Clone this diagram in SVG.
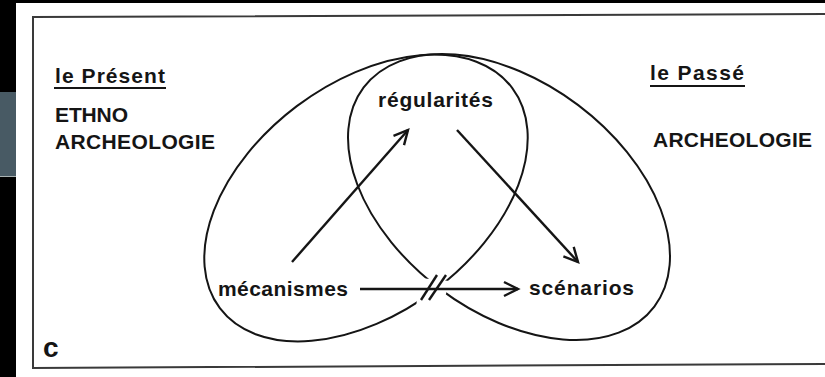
<svg xmlns="http://www.w3.org/2000/svg" width="825" height="377" viewBox="0 0 825 377">
<style>
.t{font-family:"Liberation Sans",Arial,sans-serif;font-weight:bold;font-size:21px;fill:#151515}
.c{fill:none;stroke:#151515;stroke-width:2}
.a{fill:none;stroke:#151515;stroke-width:2.4}
</style>
<defs>
<marker id="ah" markerUnits="userSpaceOnUse" viewBox="-16 -10 20 20" refX="0" refY="0" markerWidth="20" markerHeight="20" orient="auto">
<path d="M-14,-7 L0,0 L-14,7" fill="none" stroke="#151515" stroke-width="2.4" stroke-linejoin="miter"/>
</marker>
<mask id="gap" maskUnits="userSpaceOnUse" x="0" y="0" width="825" height="377">
<rect x="0" y="0" width="825" height="377" fill="#fff"/>
<polygon points="420,278 450,281 445,297 416,307" fill="#000"/>
</mask>
</defs>
<rect x="0" y="0" width="825" height="377" fill="#000"/>
<rect x="16" y="3" width="809" height="374" fill="#fff"/>
<rect x="0" y="92" width="16" height="84" fill="#485a64"/>
<line x1="0" y1="176.5" x2="16" y2="176.5" stroke="#a9b2b2" stroke-width="1"/>
<path d="M825,14 L33,17 L33,368 L825,364" fill="none" stroke="#3a3a3a" stroke-width="2"/>
<g id="present">
<text class="t" x="55" y="83" textLength="110" lengthAdjust="spacing">le Présent</text>
<line x1="54" y1="88" x2="166" y2="88" stroke="#151515" stroke-width="2"/>
<text class="t" x="55" y="122" textLength="73" lengthAdjust="spacing">ETHNO</text>
<text class="t" x="55" y="149" textLength="160" lengthAdjust="spacing">ARCHEOLOGIE</text>
</g>
<g id="passe">
<text class="t" x="650" y="80" textLength="94" lengthAdjust="spacing">le Passé</text>
<line x1="650" y1="86" x2="745" y2="86" stroke="#151515" stroke-width="2"/>
<text class="t" x="653" y="147" textLength="159" lengthAdjust="spacing">ARCHEOLOGIE</text>
</g>
<g id="loops" mask="url(#gap)">
<ellipse class="c" cx="366" cy="198" rx="183" ry="115" transform="rotate(-37 366 198)"/>
<ellipse class="c" cx="509" cy="197" rx="182" ry="115" transform="rotate(37 509 197)"/>
</g>
<g id="regularites"><text class="t" x="378" y="107" textLength="115" lengthAdjust="spacing">régularités</text></g>
<g id="mecanismes"><text class="t" x="218" y="296" textLength="130" lengthAdjust="spacing">mécanismes</text></g>
<g id="scenarios"><text class="t" x="529" y="295" textLength="105" lengthAdjust="spacing">scénarios</text></g>
<g id="label-c"><text class="t" x="43" y="357" style="font-size:28px">c</text></g>
<g id="connectors">
<line class="a" x1="292" y1="262" x2="408" y2="130" marker-end="url(#ah)"/>
<line class="a" x1="457" y1="130" x2="578" y2="262" marker-end="url(#ah)"/>
<line class="a" x1="360" y1="289" x2="518" y2="289" marker-end="url(#ah)"/>
<line class="a" x1="421" y1="300" x2="437" y2="275"/>
<line class="a" x1="429" y1="300" x2="446" y2="275"/>
</g>
</svg>
